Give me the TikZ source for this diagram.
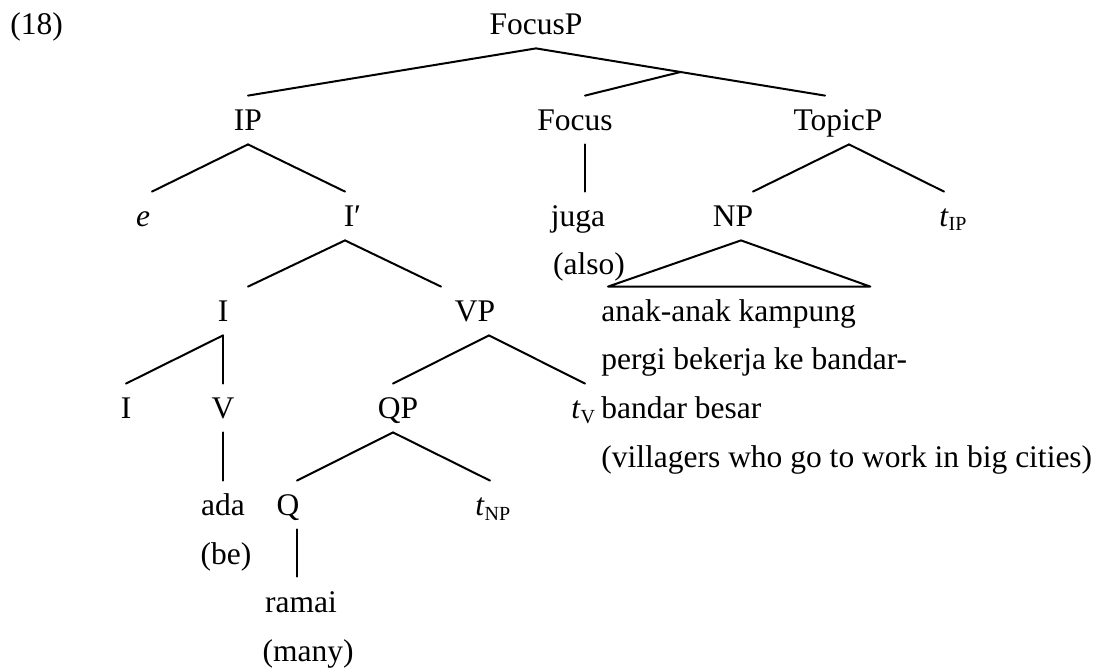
\documentclass[tikz,border=0pt]{standalone}
\usepackage{fontspec}
\setmainfont{Liberation Serif}
\usepackage{tikz}
\usetikzlibrary{calc}
\tikzstyle{branch}=[draw, line width=1pt, line cap=round, line join=round]
\tikzstyle{tn}=[anchor=base, inner xsep=0pt, inner ysep=6.5pt, text height=11pt, text depth=0pt]
\tikzstyle{txt}=[tn, anchor=base west]
\newcommand{\trc}[1]{\textit{t}\rlap{\raisebox{-2pt}{\fontsize{10}{12}\selectfont #1}}}

\begin{document}
\begin{tikzpicture}[x=0.5pt, y=-0.5pt, font=\fontsize{15.75}{19}\selectfont]
  \useasboundingbox (0,0) rectangle (1104,668);

  \node [txt] (num) at (10,35) {(18)};
  \node [tn] (focusp) at (536,35) {FocusP};
  \node [tn] (ip) at (248,131) {IP};
  \node [tn] (focus) at (575,131) {Focus};
  \node [tn] (topicp) at (838,131) {TopicP};
  \node [tn] (e) at (143,227) {\textit{e}};
  \node [tn] (ibar) at (349,227) {I\rlap{′}};
  \node [tn] (juga) at (578,227) {juga};
  \node [tn] (also) at (589,275) {(also)};
  \node [tn] (np) at (733,227) {NP};
  \node [tn] (tip) at (944,227) {\trc{IP}};
  \node [tn] (i) at (223,322) {I};
  \node [tn] (vp) at (475,322) {VP};
  \node [txt] (npa) at (601,322) {anak-anak kampung};
  \node [txt] (npb) at (601,370) {pergi bekerja ke bandar-};
  \node [txt] (npc) at (601,419) {bandar besar};
  \node [txt] (npd) at (601,467) {(villagers who go to work in big cities)};
  \node [tn] (i2) at (126,419) {I};
  \node [tn] (v) at (223,419) {V};
  \node [tn] (qp) at (398,419) {QP};
  \node [tn] (tv) at (576,419) {\trc{V}};
  \node [tn] (ada) at (223,516) {ada};
  \node [tn] (be) at (226,564) {(be)};
  \node [tn] (q) at (288,516) {Q};
  \node [tn] (tnp) at (480,516) {\trc{NP}};
  \node [tn] (ramai) at (301,612) {ramai};
  \node [tn] (many) at (308,661) {(many)};

  \draw [branch] (focusp.south) -- (ip.north);
  \draw [branch] (focusp.south) -- coordinate [pos=0.5] (fj) ($(topicp.north)+(-13,0)$);
  \draw [branch] (fj) -- ($(focus.north)+(10,0)$);
  \draw [branch] (ip.south) -- ($(e.north)+(9,0)$);
  \draw [branch] (ip.south) -- ($(ibar.north)+(-4,0)$);
  \draw [branch] ($(focus.south)+(10,0)$) -- ($(juga.north)+(7,0)$);
  \draw [branch] ($(topicp.south)+(11,0)$) -- ($(np.north)+(20,0)$);
  \draw [branch] ($(topicp.south)+(11,0)$) -- (tip.north);
  \draw [branch] ($(ibar.south)+(-4,0)$) -- ($(i.north)+(25,0)$);
  \draw [branch] ($(ibar.south)+(-4,0)$) -- ($(vp.north)+(-34,0)$);
  \draw [branch] ($(np.south)+(8,0)$) -- ($(npa.north west)+(7,0)$)
    -- ($(npa.north east)+(14,0)$) -- cycle;
  \draw [branch] (i.south) -- (i2.north);
  \draw [branch] (i.south) -- (v.north);
  \draw [branch] ($(vp.south)+(14,0)$) -- ($(qp.north)+(-5,0)$);
  \draw [branch] ($(vp.south)+(14,0)$) -- ($(tv.north)+(9,0)$);
  \draw [branch] (v.south) -- (ada.north);
  \draw [branch] ($(qp.south)+(-5,0)$) -- ($(q.north)+(9,0)$);
  \draw [branch] ($(qp.south)+(-5,0)$) -- ($(tnp.north)+(10,0)$);
  \draw [branch] ($(q.south)+(9,0)$) -- ($(ramai.north)+(-4,0)$);
\end{tikzpicture}
\end{document}
